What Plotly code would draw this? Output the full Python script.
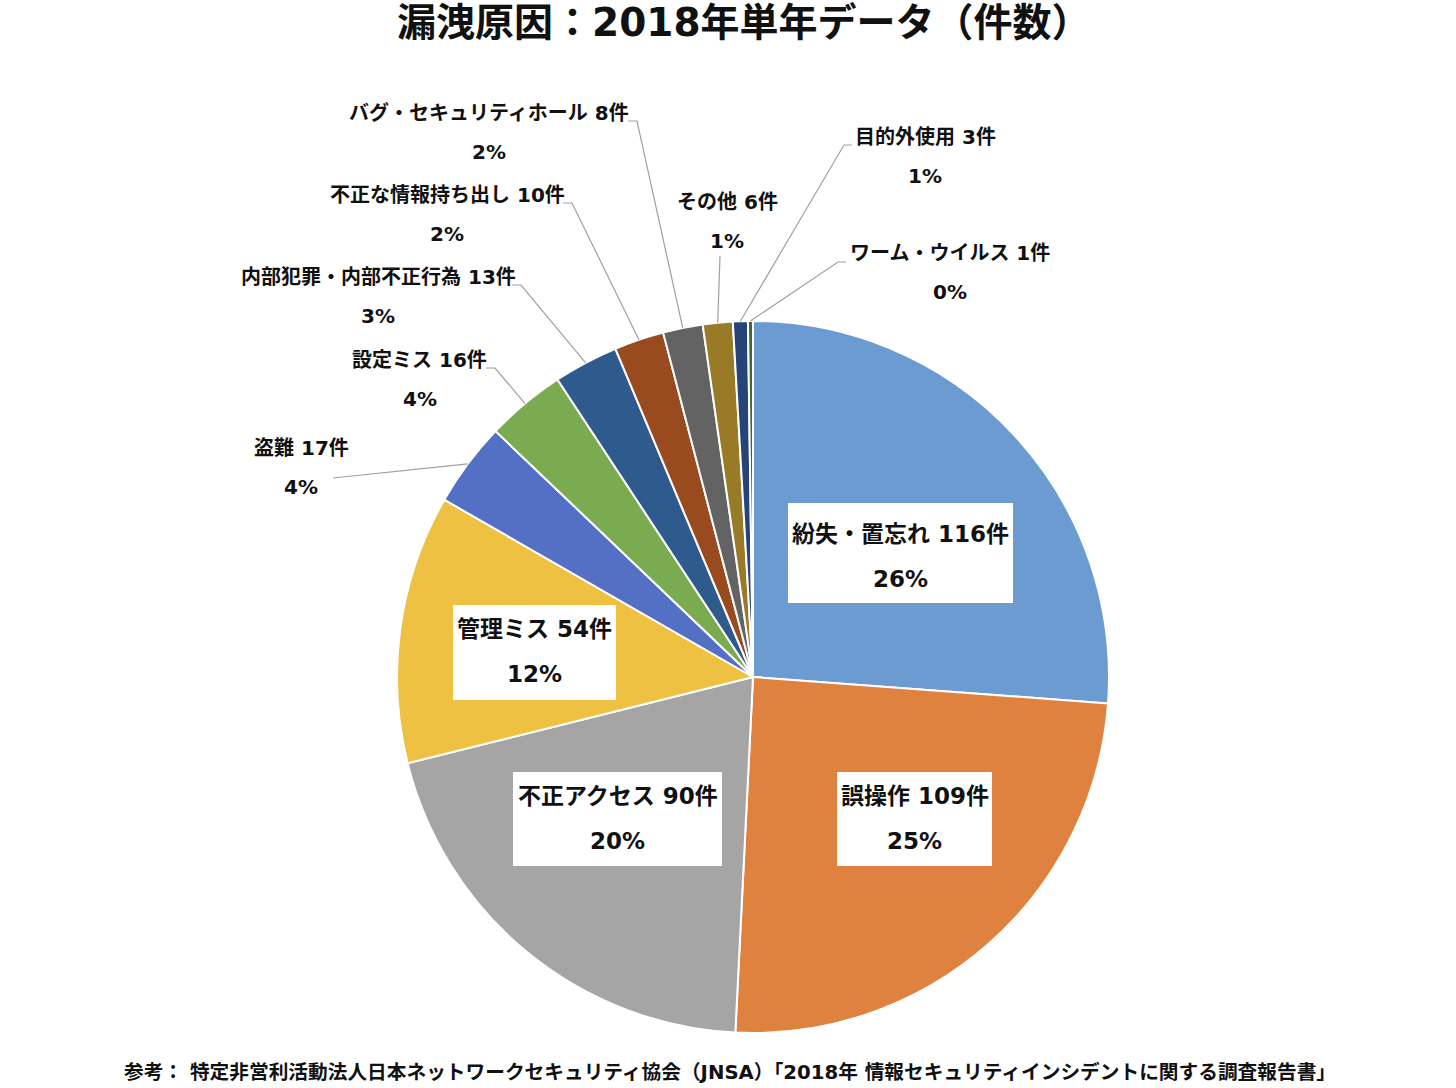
import plotly.graph_objects as go
import math

# データ（2018年単年、件数）
labels = ["紛失・置忘れ", "誤操作", "不正アクセス", "管理ミス", "盗難", "設定ミス",
          "内部犯罪・内部不正行為", "不正な情報持ち出し", "バグ・セキュリティホール",
          "その他", "目的外使用", "ワーム・ウイルス"]
counts = [116, 109, 90, 54, 17, 16, 13, 10, 8, 6, 3, 1]
colors = ["#6B9BD1", "#E0823F", "#A5A5A5", "#EFC142", "#5470C4", "#7BAB50",
          "#2F5A8E", "#994A1F", "#636363", "#997A27", "#264478", "#43682B"]

title = "漏洩原因：2018年単年データ（件数）"
source = ("参考： 特定非営利活動法人日本ネットワークセキュリティ協会（JNSA）"
          "「2018年 情報セキュリティインシデントに関する調査報告書」")

W, H = 1456, 1088
CX, CY, R = 753, 677, 356
FONT = "DejaVu Sans, Noto Sans CJK JP"


def px(x):
    return x / W


def py(y):
    return 1 - y / H


total = sum(counts)
pcts = [f"{round(c / total * 100)}%" for c in counts]

fig = go.Figure()
fig.add_trace(go.Pie(
    labels=labels,
    values=counts,
    sort=False,
    direction="clockwise",
    rotation=0,
    textinfo="none",
    hoverinfo="label+value+percent",
    marker=dict(colors=colors, line=dict(color="white", width=2)),
    domain=dict(x=[px(CX - R), px(CX + R)], y=[py(CY + R), py(CY - R)]),
    showlegend=False,
))

shapes = []
annotations = []

# 円の中のラベル（白い箱）: 箱 x0, x1, y0, y1, 1行目y, 2行目y
inner = {
    "紛失・置忘れ": (788, 1013, 503, 603, 534, 579),
    "誤操作": (837, 992, 772, 866, 796, 841),
    "不正アクセス": (513, 722, 772, 866, 796, 841),
    "管理ミス": (453, 616, 605, 700, 629, 674),
}
# 円の外のラベル: 中心x, 1行目y, 2行目y, 引き出し線の点
outer = {
    "盗難": (301, 448, 487, [(333, 478)]),
    "設定ミス": (420, 360, 399, [(486, 368), (495, 368)]),
    "内部犯罪・内部不正行為": (378, 277, 316, [(512, 285), (521, 285)]),
    "不正な情報持ち出し": (447, 195, 234, [(563, 203), (572, 203)]),
    "バグ・セキュリティホール": (489, 113, 152, [(628, 121), (637, 121)]),
    "その他": (727, 202, 241, [(720, 256)]),
    "目的外使用": (925, 137, 176, [(852, 145), (844, 145)]),
    "ワーム・ウイルス": (950, 253, 292, [(846, 262), (838, 262)]),
}

cum = 0
for lab, c, pct in zip(labels, counts, pcts):
    mid = (cum + c / 2) / total * 2 * math.pi
    cum += c
    text1 = f"<b>{lab} {c}件</b>"
    text2 = f"<b>{pct}</b>"
    if lab in inner:
        x0, x1, y0, y1, t1, t2 = inner[lab]
        shapes.append(dict(type="rect", xref="paper", yref="paper",
                           x0=px(x0), x1=px(x1), y0=py(y1), y1=py(y0),
                           fillcolor="white", line=dict(width=0), layer="above"))
        xc = (x0 + x1) / 2
        for t, yy in ((text1, t1), (text2, t2)):
            annotations.append(dict(x=px(xc), y=py(yy), xref="paper", yref="paper",
                                    text=t, showarrow=False, xanchor="center",
                                    yanchor="middle",
                                    font=dict(family=FONT, size=23, color="#111")))
    else:
        xc, t1, t2, pts = outer[lab]
        for t, yy in ((text1, t1), (text2, t2)):
            annotations.append(dict(x=px(xc), y=py(yy), xref="paper", yref="paper",
                                    text=t, showarrow=False, xanchor="center",
                                    yanchor="middle",
                                    font=dict(family=FONT, size=20, color="#111")))
        ex = CX + R * math.sin(mid)
        ey = CY - R * math.cos(mid)
        path_pts = pts + [(ex, ey)]
        path = "M " + " L ".join(f"{px(a):.5f},{py(b):.5f}" for a, b in path_pts)
        shapes.append(dict(type="path", xref="paper", yref="paper", path=path,
                           line=dict(color="#A0A0A0", width=1.2)))

annotations.append(dict(x=px(744), y=py(22), xref="paper", yref="paper",
                        text=f"<b>{title}</b>", showarrow=False,
                        xanchor="center", yanchor="middle",
                        font=dict(family=FONT, size=39, color="#111")))
annotations.append(dict(x=px(730), y=py(1072), xref="paper", yref="paper",
                        text=f"<b>{source}</b>", showarrow=False,
                        xanchor="center", yanchor="middle",
                        font=dict(family=FONT, size=19.7, color="#111")))

fig.update_layout(
    width=W, height=H,
    margin=dict(l=0, r=0, t=0, b=0),
    paper_bgcolor="white",
    plot_bgcolor="white",
    shapes=shapes,
    annotations=annotations,
)

fig.write_html("out.html",
               config={"displayModeBar": False},
               post_script="document.body.style.margin='0';"
                           "document.body.style.overflow='hidden';")
